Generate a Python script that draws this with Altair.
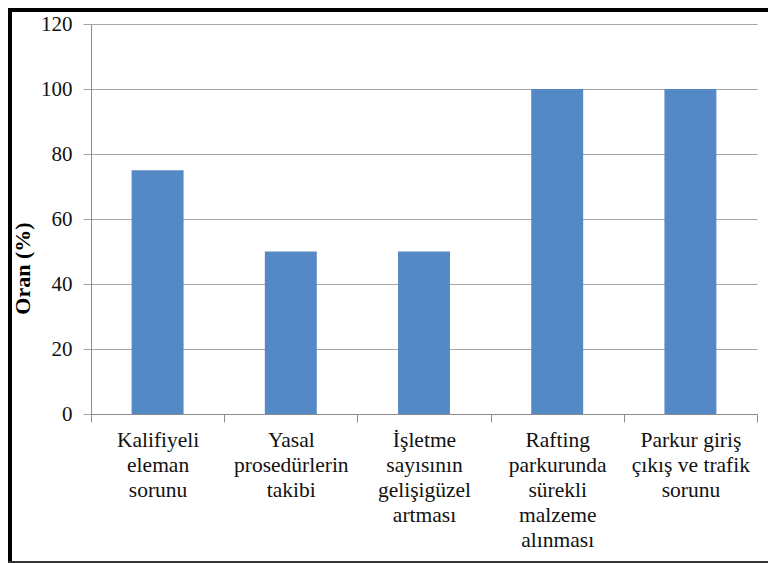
import altair as alt
import pandas as pd

categories = [
    "Kalifiyeli|eleman|sorunu",
    "Yasal|prosedürlerin|takibi",
    "İşletme|sayısının|gelişigüzel|artması",
    "Rafting|parkurunda|sürekli|malzeme|alınması",
    "Parkur giriş|çıkış ve trafik|sorunu",
]
values = [75, 50, 50, 100, 100]
y_ticks = [0, 20, 40, 60, 80, 100, 120]

df = pd.DataFrame({"cat": categories, "val": values})

FONT = "Liberation Serif"
GRID = "#a6a6a6"
AXISC = "#8c8c8c"

bars = alt.Chart(df).mark_bar(color="#5489C6", width={"band": 0.39}).encode(
    x=alt.X(
        "cat:N",
        sort=categories,
        scale=alt.Scale(paddingInner=0, paddingOuter=0),
        axis=alt.Axis(
            title=None,
            labelExpr="split(datum.label, '|')",
            labelAngle=0,
            labelFont=FONT,
            labelFontSize=21.5,
            labelColor="#111111",
            labelLineHeight=25,
            labelPadding=7,
            labelBaseline="top",
            tickBand="extent",
            tickSize=8,
            tickColor=AXISC,
            domainColor=AXISC,
            grid=False,
            labelLimit=0,
        ),
    ),
    y=alt.Y(
        "val:Q",
        scale=alt.Scale(domain=[0, 120], nice=False),
        axis=alt.Axis(
            values=y_ticks,
            title="Oran (%)",
            titleFont=FONT,
            titleFontSize=22,
            titleFontWeight="bold",
            titleColor="#000000",
            titleAngle=270,
            titleAlign="center",
            titleBaseline="middle",
            titleX=-69,
            titleY=244,
            labelFont=FONT,
            labelFontSize=21,
            labelColor="#111111",
            labelPadding=11,
            tickSize=8,
            tickColor=GRID,
            gridColor=GRID,
            domainColor=AXISC,
        ),
    ),
)

one = alt.Data(values=[{"a": 1}])
left_border = alt.Chart(one).mark_rule(color="#000000", strokeWidth=4).encode(
    x=alt.value(-81), y=alt.value(-16), y2=alt.value(539)
)
top_border = alt.Chart(one).mark_rule(color="#000000", strokeWidth=4).encode(
    x=alt.value(-83), x2=alt.value(677), y=alt.value(-14)
)
bottom_border = alt.Chart(one).mark_rule(color="#333333", strokeWidth=2).encode(
    x=alt.value(-83), x2=alt.value(677), y=alt.value(538)
)

chart = (
    alt.layer(bars, left_border, top_border, bottom_border)
    .properties(
        width=666,
        height=390,
        autosize=alt.AutoSizeParams(type="none"),
        padding={"left": 83, "top": 16, "right": 11, "bottom": 149},
        background="white",
    )
    .configure_view(stroke=None)
)

chart.save("out.html", embed_options={"renderer": "svg", "actions": False})
